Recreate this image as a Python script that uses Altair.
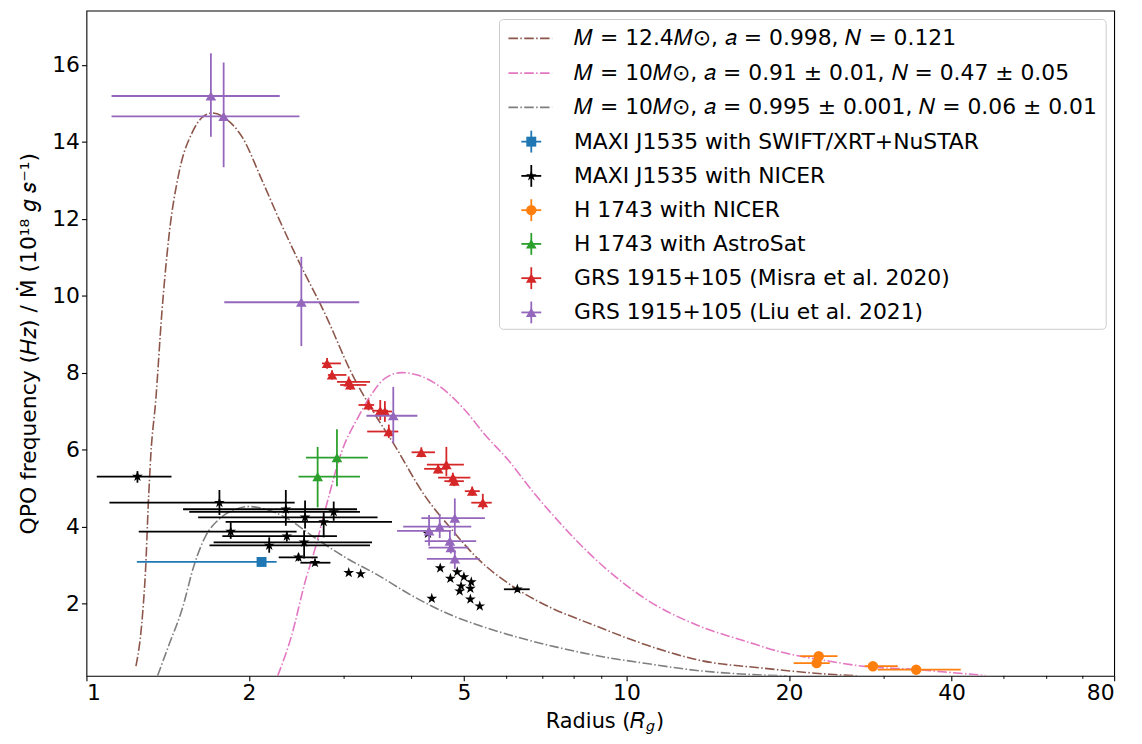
import altair as alt
import pandas as pd

FONT = "DejaVu Sans"
FS = 22
W, H = 1035, 670

# ---------------- model curves ----------------
brown_x = [1.235, 1.270, 1.288, 1.301, 1.316, 1.344, 1.379, 1.423, 1.485, 1.571, 1.640, 1.712,
           1.812, 1.943, 2.114, 2.270, 2.471, 2.768, 3.102, 3.427, 3.700, 4.237, 4.743, 5.31,
           6.12, 6.81, 8.84, 10.9, 13.7, 17.9, 23.8, 26.7]
brown_y = [0.37, 1.70, 3.0, 4.5, 5.87, 7.29, 9.54, 11.6, 13.22, 14.25, 14.64, 14.75,
           14.6, 14.12, 13.0, 12.01, 10.90, 9.52, 7.97, 6.90, 6.17, 4.79, 3.93, 3.16,
           2.47, 2.08, 1.40, 0.92, 0.52, 0.32, 0.16, 0.12]

pink_x = [2.26, 2.40, 2.54, 2.65, 2.77, 2.97, 3.19, 3.38, 3.57, 3.83, 4.12, 4.48, 5.02, 5.46,
          6.03, 6.76, 7.15, 8.84, 10.9, 13.5, 16.7, 19.2, 23.8, 27.4, 33.8, 41.9, 46.2]
pink_y = [0.12, 1.18, 2.56, 3.42, 4.45, 5.95, 6.86, 7.46, 7.85, 8.0, 7.93, 7.67, 7.03, 6.40,
          5.74, 4.85, 4.45, 3.1, 2.1, 1.44, 1.01, 0.75, 0.50, 0.37, 0.29, 0.18, 0.13]

gray_x = [1.354, 1.423, 1.505, 1.582, 1.663, 1.760, 1.889, 2.0, 2.146, 2.335, 2.616, 3.014,
          3.472, 4.0, 4.81, 5.31, 6.30, 7.46, 8.84, 10.9, 13.5, 16.7, 19.8]
gray_y = [0.12, 0.94, 1.87, 2.99, 3.76, 4.19, 4.45, 4.52, 4.45, 4.24, 3.76, 3.20,
          2.73, 2.21, 1.66, 1.44, 1.12, 0.86, 0.64, 0.44, 0.26, 0.16, 0.12]

# ---------------- MAXI J1535 SWIFT/XRT+NuSTAR ----------------
swift_x = [2.11]; swift_y = [3.08]
swift_xlo = [1.24]; swift_xhi = [2.25]
swift_ylo = [3.02]; swift_yhi = [3.14]

# ---------------- MAXI J1535 NICER (with error bars) ----------------
nicer_x = [1.243, 1.763, 2.34, 2.54, 2.87, 2.75, 1.85, 2.35, 2.18, 2.53, 2.47, 2.65, 6.28]
nicer_y = [5.30, 4.62, 4.45, 4.24, 4.38, 4.12, 3.87, 3.75, 3.51, 3.59, 3.20, 3.06, 2.37]
nicer_xlo = [1.045, 1.103, 1.51, 1.61, 1.55, 1.81, 1.25, 1.785, 1.69, 1.72, 2.27, 2.49, 5.93]
nicer_xhi = [1.437, 2.43, 3.17, 3.46, 3.21, 3.68, 2.45, 2.91, 3.35, 3.38, 2.68, 2.83, 6.62]
nicer_ylo = [5.14, 4.30, 4.02, 3.95, 4.15, 3.72, 3.68, 3.61, 3.32, 3.17, 3.10, 2.98, 2.30]
nicer_yhi = [5.44, 4.95, 4.95, 4.68, 4.65, 4.37, 4.11, 3.87, 3.72, 3.90, 3.30, 3.14, 2.44]
# NICER points without visible error bars
nicer2_x = [3.06, 3.22, 4.52, 4.72, 4.86, 5.0, 5.16, 4.94, 5.14, 4.91, 5.14, 5.35, 4.36, 4.29]
nicer2_y = [2.80, 2.77, 2.92, 2.65, 2.82, 2.69, 2.56, 2.45, 2.39, 2.32, 2.11, 1.93, 2.13, 3.82]

# ---------------- H 1743 with NICER ----------------
h_nicer_x = [22.7, 22.5, 28.6, 34.4]
h_nicer_y = [0.63, 0.45, 0.37, 0.28]
h_nicer_xlo = [21.0, 20.4, 27.6, 29.2]
h_nicer_xhi = [24.6, 23.8, 31.8, 41.6]
h_nicer_ylo = [0.60, 0.42, 0.35, 0.26]
h_nicer_yhi = [0.66, 0.48, 0.39, 0.30]

# ---------------- H 1743 with AstroSat ----------------
astro_x = [2.68, 2.91]
astro_y = [5.30, 5.79]
astro_xlo = [2.47, 2.55]
astro_xhi = [3.21, 3.32]
astro_ylo = [4.50, 5.05]
astro_yhi = [6.07, 6.53]

# ---------------- GRS 1915+105 (Misra et al. 2020) ----------------
misra_x = [2.79, 2.85, 3.06, 3.08, 3.33, 3.50, 3.57, 3.63, 4.17, 4.64, 4.48, 4.77, 4.80, 5.18, 5.42]
misra_y = [8.24, 7.94, 7.76, 7.68, 7.16, 7.01, 6.99, 6.47, 5.93, 5.61, 5.50, 5.27, 5.18, 4.92, 4.62]
misra_xlo = [2.73, 2.80, 2.91, 2.95, 3.19, 3.38, 3.45, 3.31, 4.00, 4.27, 4.22, 4.48, 4.60, 5.02, 5.16]
misra_xhi = [2.96, 3.03, 3.35, 3.30, 3.41, 3.62, 3.68, 3.78, 4.42, 5.00, 4.67, 5.14, 5.00, 5.35, 5.63]
misra_ylo = [8.10, 7.82, 7.62, 7.55, 7.02, 6.77, 6.72, 6.30, 5.80, 5.31, 5.38, 5.14, 5.05, 4.80, 4.45]
misra_yhi = [8.38, 8.06, 7.90, 7.82, 7.30, 7.29, 7.26, 6.65, 6.06, 6.07, 5.62, 5.40, 5.31, 5.04, 4.85]

# ---------------- GRS 1915+105 (Liu et al. 2021) ----------------
liu_x = [1.70, 1.795, 2.50, 3.70, 4.31, 4.51, 4.81, 4.71, 4.73, 4.81]
liu_y = [15.19, 14.66, 9.83, 6.88, 3.89, 4.00, 4.22, 3.62, 3.45, 3.16]
liu_xlo = [1.113, 1.113, 1.80, 3.30, 3.76, 3.86, 4.17, 4.23, 4.30, 4.27]
liu_xhi = [2.28, 2.48, 3.20, 4.10, 4.73, 5.16, 5.47, 5.27, 5.10, 5.35]
liu_ylo = [14.13, 13.34, 8.69, 6.17, 3.50, 3.70, 3.76, 3.35, 3.30, 2.90]
liu_yhi = [16.30, 16.06, 11.01, 7.63, 4.30, 4.32, 4.73, 3.89, 3.60, 3.38]

x_ticks = [1, 2, 5, 10, 20, 40, 80]
x_minor = [3, 4, 6, 7, 8, 9, 30, 50, 60, 70]
y_ticks = [2, 4, 6, 8, 10, 12, 14, 16]

legend_labels = [
    "𝑀 = 12.4𝑀⊙, 𝑎 = 0.998, 𝑁 = 0.121",
    "𝑀 = 10𝑀⊙, 𝑎 = 0.91 ± 0.01, 𝑁 = 0.47 ± 0.05",
    "𝑀 = 10𝑀⊙, 𝑎 = 0.995 ± 0.001, 𝑁 = 0.06 ± 0.01",
    "MAXI J1535 with SWIFT/XRT+NuSTAR",
    "MAXI J1535 with NICER",
    "H 1743 with NICER",
    "H 1743 with AstroSat",
    "GRS 1915+105 (Misra et al. 2020)",
    "GRS 1915+105 (Liu et al. 2021)",
]

BROWN, PINK, GRAY = "#8c564b", "#e377c2", "#7f7f7f"
BLUE, BLACK, ORANGE, GREEN, RED, PURPLE = "#1f77b4", "#000000", "#ff7f0e", "#2ca02c", "#d62728", "#9467bd"
DASH = [9.6, 2.4, 1.5, 2.4]
STAR = ("M0,-1L0.2245,-0.309L0.9511,-0.309L0.3633,0.118L0.5878,0.809L0,0.382"
        "L-0.5878,0.809L-0.3633,0.118L-0.9511,-0.309L-0.2245,-0.309Z")

xsc = alt.Scale(type="log", domain=[1, 80], nice=False)
ysc = alt.Scale(domain=[0.12, 17.41], nice=False, zero=False)
XA = alt.Axis(values=x_ticks, format="d", title=None, grid=False, orient="bottom")
YA = alt.Axis(values=y_ticks, format="d", grid=False, orient="left",
              title="QPO frequency (𝐻𝑧) / Ṁ  (10¹⁸ 𝑔 𝑠⁻¹)")


def X(f="x"):
    return alt.X(f"{f}:Q", scale=xsc, axis=XA)


def Y(f="y"):
    return alt.Y(f"{f}:Q", scale=ysc, axis=YA)


layers = []

# model curves
for cx, cy, col in [(brown_x, brown_y, BROWN), (pink_x, pink_y, PINK), (gray_x, gray_y, GRAY)]:
    df = pd.DataFrame({"x": cx, "y": cy})
    layers.append(alt.Chart(df).mark_line(color=col, strokeDash=DASH, strokeWidth=1.6, clip=True,
                                          interpolate="monotone")
                  .encode(x=X(), y=Y()))


def err_series(xs, ys, xlo, xhi, ylo, yhi, col, shape, size):
    df = pd.DataFrame({"x": xs, "y": ys, "xlo": xlo, "xhi": xhi, "ylo": ylo, "yhi": yhi})
    base = alt.Chart(df)
    return [
        base.mark_rule(color=col, strokeWidth=1.8).encode(x=X("xlo"), x2="xhi:Q", y=Y()),
        base.mark_rule(color=col, strokeWidth=1.8).encode(x=X(), y=Y("ylo"), y2="yhi:Q"),
        base.mark_point(shape=shape, size=size, filled=True, color=col, opacity=1).encode(x=X(), y=Y()),
    ]


layers += err_series(swift_x, swift_y, swift_xlo, swift_xhi, swift_ylo, swift_yhi, BLUE, "square", 100)
layers += err_series(nicer_x, nicer_y, nicer_xlo, nicer_xhi, nicer_ylo, nicer_yhi, BLACK, STAR, 130)
layers.append(alt.Chart(pd.DataFrame({"x": nicer2_x, "y": nicer2_y}))
              .mark_point(shape=STAR, size=130, filled=True, color=BLACK, opacity=1)
              .encode(x=X(), y=Y()))
layers += err_series(h_nicer_x, h_nicer_y, h_nicer_xlo, h_nicer_xhi, h_nicer_ylo, h_nicer_yhi, ORANGE, "circle", 110)
layers += err_series(astro_x, astro_y, astro_xlo, astro_xhi, astro_ylo, astro_yhi, GREEN, "triangle-up", 115)
layers += err_series(misra_x, misra_y, misra_xlo, misra_xhi, misra_ylo, misra_yhi, RED, "triangle-up", 115)
layers += err_series(liu_x, liu_y, liu_xlo, liu_xhi, liu_ylo, liu_yhi, PURPLE, "triangle-up", 115)

# minor ticks on the log axis
layers.append(alt.Chart(pd.DataFrame({"x": x_minor})).mark_rule(color="black", strokeWidth=1)
              .encode(x=X(), y=alt.value(H), y2=alt.value(H + 3)))

# ---------------- legend (drawn by hand) ----------------
one = pd.DataFrame({"a": [0]})
LX0, LX1, LY0, LY1 = 416, 1027, 9, 321
layers.append(alt.Chart(one).mark_rect(fill="white", fillOpacity=0.8, stroke="#cccccc",
                                        strokeWidth=1, cornerRadius=4)
              .encode(x=alt.value(LX0), x2=alt.value(LX1), y=alt.value(LY0), y2=alt.value(LY1)))
row_y = [28, 63, 97.5, 132, 166.5, 201, 235, 269.5, 304]
line_cols = [BROWN, PINK, GRAY]
pt_specs = [(BLUE, "square", 100), (BLACK, STAR, 130), (ORANGE, "circle", 110),
            (GREEN, "triangle-up", 115), (RED, "triangle-up", 115), (PURPLE, "triangle-up", 115)]
for i, (lab, yc) in enumerate(zip(legend_labels, row_y)):
    if i < 3:
        layers.append(alt.Chart(one).mark_rule(color=line_cols[i], strokeDash=DASH, strokeWidth=1.6)
                      .encode(x=alt.value(425), x2=alt.value(469), y=alt.value(yc)))
    else:
        col, shp, sz = pt_specs[i - 3]
        layers.append(alt.Chart(one).mark_rule(color=col, strokeWidth=1.8)
                      .encode(x=alt.value(438), x2=alt.value(458), y=alt.value(yc)))
        layers.append(alt.Chart(one).mark_rule(color=col, strokeWidth=1.8)
                      .encode(x=alt.value(448), y=alt.value(yc - 11), y2=alt.value(yc + 11)))
        layers.append(alt.Chart(one).mark_point(shape=shp, size=sz, filled=True, color=col, opacity=1)
                      .encode(x=alt.value(448), y=alt.value(yc)))
    layers.append(alt.Chart(one).mark_text(text=lab, align="left", baseline="middle", font=FONT,
                                            fontSize=FS, color="black")
                  .encode(x=alt.value(491), y=alt.value(yc)))

# x-axis title with subscript
TFS = 21
RX = 563
layers.append(alt.Chart(one).mark_text(text="Radius (𝑅", align="right", baseline="alphabetic",
                                        font=FONT, fontSize=TFS, color="black")
              .encode(x=alt.value(RX), y=alt.value(H + 53)))
layers.append(alt.Chart(one).mark_text(text="𝑔", align="left", baseline="alphabetic",
                                        font=FONT, fontSize=TFS * 0.7, color="black")
              .encode(x=alt.value(RX + 0.5), y=alt.value(H + 56)))
layers.append(alt.Chart(one).mark_text(text=")", align="left", baseline="alphabetic",
                                        font=FONT, fontSize=TFS, color="black")
              .encode(x=alt.value(RX + 10.5), y=alt.value(H + 53)))

chart = (
    alt.layer(*layers)
    .properties(width=W, height=H, autosize=alt.AutoSizeParams(type="none"),
                padding={"left": 79, "top": 0, "right": 20, "bottom": 60})
    .configure_view(stroke="black", strokeWidth=1.1)
    .configure_axis(domain=False, grid=False, tickColor="black", tickWidth=1.1, tickSize=5,
                    labelColor="black", labelFont=FONT, labelFontSize=FS, labelPadding=2,
                    titleFont=FONT, titleFontSize=FS, titleFontWeight="normal", titleColor="black",
                    titlePadding=11)
)

chart.save("out.html", embed_options={"renderer": "svg", "actions": False})
